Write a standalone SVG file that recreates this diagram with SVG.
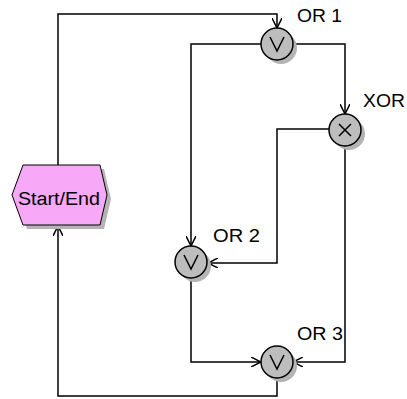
<svg xmlns="http://www.w3.org/2000/svg" width="407" height="399" viewBox="0 0 407 399">
<style>
.c{fill:none;stroke:#000;stroke-width:1.5}
.g{fill:#bdbdbd;stroke:#000;stroke-width:1.5}
.sh{fill:#b4b4b4}
.sym{fill:none;stroke:#000;stroke-width:1.5}
.t{font-family:"Liberation Sans",Arial,sans-serif;font-size:18px;fill:#000}
</style>
<defs>
<marker id="a" viewBox="0 0 10 10" refX="10" refY="5" markerWidth="10" markerHeight="10" markerUnits="userSpaceOnUse" orient="auto">
<path d="M0,0 L10,5 L0,10" fill="none" stroke="#000" stroke-width="1.5"/>
</marker>
</defs>
<g id="connectors">
<path class="c" d="M58,165 V14 H277 V28" marker-end="url(#a)"/>
<path class="c" d="M261,44 H191 V246" marker-end="url(#a)"/>
<path class="c" d="M293,44 H345 V114" marker-end="url(#a)"/>
<path class="c" d="M329,129 H277 V263 H208" marker-end="url(#a)"/>
<path class="c" d="M345,146 V362 H293" marker-end="url(#a)"/>
<path class="c" d="M191,279 V362 H261" marker-end="url(#a)"/>
<path class="c" d="M277,378 V396 H58 V226" marker-end="url(#a)"/>
</g>
<g id="start-end">
<polygon class="sh" points="27,169 104,169 111,199 104,229 27,229 16,199"/>
<polygon points="23,165 100,165 107,195 100,225 23,225 12,195" fill="#f7a8f7" stroke="#000" stroke-width="1"/>
<text class="t" x="18" y="205" textLength="82" lengthAdjust="spacingAndGlyphs">Start/End</text>
</g>
<g id="or1">
<circle class="sh" cx="281" cy="48" r="16"/>
<circle class="g" cx="277" cy="44" r="16"/>
<path class="sym" d="M270,37 L277,51 L284,37"/>
<text class="t" x="297" y="22" textLength="45" lengthAdjust="spacingAndGlyphs">OR 1</text>
</g>
<g id="xor">
<circle class="sh" cx="349" cy="134" r="16"/>
<circle class="g" cx="345" cy="130" r="16"/>
<path class="sym" d="M339,124 L351,136 M351,124 L339,136"/>
<text class="t" x="363" y="107" textLength="42" lengthAdjust="spacingAndGlyphs">XOR</text>
</g>
<g id="or2">
<circle class="sh" cx="195" cy="266" r="16"/>
<circle class="g" cx="191" cy="262" r="16"/>
<path class="sym" d="M184,255 L191,269 L198,255"/>
<text class="t" x="213" y="242" textLength="47" lengthAdjust="spacingAndGlyphs">OR 2</text>
</g>
<g id="or3">
<circle class="sh" cx="281" cy="366" r="16"/>
<circle class="g" cx="277" cy="362" r="16"/>
<path class="sym" d="M270,355 L277,369 L284,355"/>
<text class="t" x="297" y="340" textLength="46" lengthAdjust="spacingAndGlyphs">OR 3</text>
</g>
</svg>
